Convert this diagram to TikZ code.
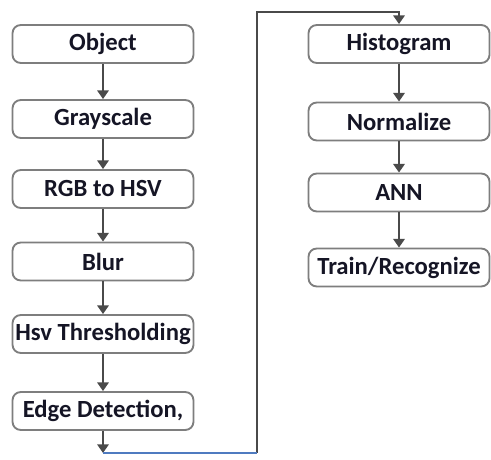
\documentclass[tikz,border=0pt]{standalone}
\usepackage{fontspec}
\setmainfont{Carlito}
\usepackage{xcolor}
\usetikzlibrary{positioning}
\usetikzlibrary{calc}
\usetikzlibrary{arrows.meta}
\definecolor{boxgray}{HTML}{7E7E7E}
\definecolor{arrgray}{HTML}{4A4A4A}
\definecolor{txt}{HTML}{151525}
\definecolor{lnblue}{HTML}{4F7BC0}
\tikzset{every picture/.style={line width=1pt}}

\begin{document}
\begin{tikzpicture}[x=0.75pt,y=-0.75pt,
st/.style={rectangle, rounded corners=1.3ex, draw=boxgray, line width=1.4pt, minimum width=135.75pt, minimum height=28.5pt, inner sep=1pt, text=txt, font=\bfseries\fontsize{18.5}{19}\selectfont},
fl/.style={draw=arrgray, line width=2pt, -{Triangle[length=6.5pt,width=8.5pt]}},
bl/.style={draw=lnblue, line width=0.8pt}]
\useasboundingbox (0,0) rectangle (491,459);
\foreach \i/\y/\t in {1/44/Object,2/119/Grayscale,3/189/RGB to HSV,4/261.5/Blur,5/334/Hsv Thresholding,6/411/{Edge Detection,}} {
\node (l\i) at (103,\y) [st] {\t};
}
\foreach \i/\y/\t in {1/44/Histogram,2/121.5/Normalize,3/192.5/ANN,4/267.5/{Train/Recognize}} {
\node (r\i) at (399,\y) [st] {\t};
}
\foreach \i/\j in {1/2,2/3,3/4,4/5,5/6} {
\draw[fl] (l\i) -- (l\j);
}
\foreach \i/\j in {1/2,2/3,3/4} {
\draw[fl] (r\i) -- (r\j);
}
\coordinate (b1) at (103,453);
\coordinate (b2) at (257,453);
\coordinate (t1) at (257,12);
\coordinate (t2) at (399,12);
\draw[fl] (l6) -- (b1);
\draw[fl] (b2) -- (t1) -- (t2) -- (r1);
\draw[bl] (b1) -- (b2);
\end{tikzpicture}
\end{document}
